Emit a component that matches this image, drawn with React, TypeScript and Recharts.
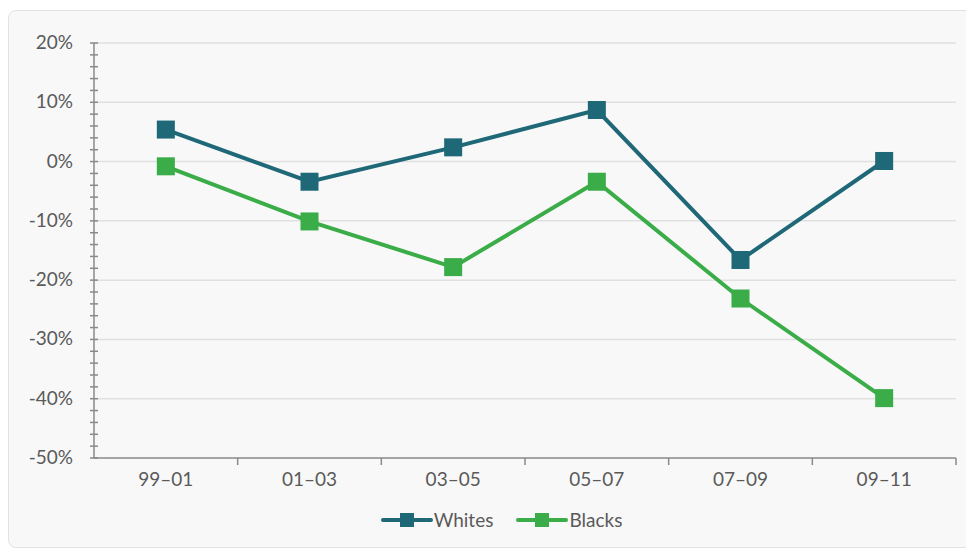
import React from 'react';
import { LineChart, Line, XAxis, YAxis, CartesianGrid, Legend } from 'recharts';

const periods = ['99–01', '01–03', '03–05', '05–07', '07–09', '09–11'];
const whites = [5.4, -3.4, 2.4, 8.7, -16.6, 0.1];
const blacks = [-0.8, -10.1, -17.8, -3.4, -23.1, -39.9];
const yTicks = [-50, -48, -46, -44, -42, -40, -38, -36, -34, -32, -30, -28, -26, -24, -22, -20, -18, -16, -14, -12, -10, -8, -6, -4, -2, 0, 2, 4, 6, 8, 10, 12, 14, 16, 18, 20];
const gridValues = [-40, -30, -20, -10, 0, 10, 20];

const data = periods.map((p, i) => ({ period: p, Whites: whites[i], Blacks: blacks[i] }));

const WHITE_C = '#1f6878';
const BLACK_C = '#3aac48';
const AXIS_C = '#8a8a8a';
const TEXT_C = '#5a5a5a';
const FONT = 'Lato, "Open Sans", sans-serif';

const CHART_W = 966;
const CHART_H = 538;
const MARGIN = { top: 32, right: 17, left: 0, bottom: 9 };
const Y_W = 85;
const HALF_BAND = (CHART_W - 2 - MARGIN.right - Y_W) / periods.length / 2;

const YTick = (props: any) => {
  const { x, y, payload } = props;
  const major = payload.value % 10 === 0;
  return (
    <g>
      <line x1={x - 4} x2={x + 4} y1={y} y2={y} stroke={AXIS_C} strokeWidth={1.5} />
      {major && (
        <text x={x - 21} y={y} dy={6} textAnchor="end" fill={TEXT_C} fontSize={19} fontFamily={FONT}>
          {payload.value}%
        </text>
      )}
    </g>
  );
};

const XTick = (props: any) => {
  const { x, y, payload } = props;
  return (
    <g>
      <line x1={x + HALF_BAND} x2={x + HALF_BAND} y1={y} y2={y + 7} stroke={AXIS_C} strokeWidth={1.5} />
      <text x={x} y={y + 22} dy={6} textAnchor="middle" fill={TEXT_C} fontSize={19} fontFamily={FONT}>
        {payload.value}
      </text>
    </g>
  );
};

const SquareDot = (color: string) => (props: any) => {
  const { cx, cy, index } = props;
  if (cx == null || cy == null) return null;
  return <rect key={index} x={cx - 9} y={cy - 9} width={18} height={18} fill={color} />;
};

const LegendContent = () => {
  const items = [
    { name: 'Whites', color: WHITE_C },
    { name: 'Blacks', color: BLACK_C },
  ];
  return (
    <div style={{ display: 'flex', justifyContent: 'center', gap: 23, paddingTop: 10, paddingLeft: 38, fontFamily: FONT }}>
      {items.map((it) => (
        <div key={it.name} style={{ display: 'flex', alignItems: 'center' }}>
          <svg width={52} height={16} style={{ marginRight: 1 }}>
            <line x1={2} x2={50} y1={8} y2={8} stroke={it.color} strokeWidth={4} strokeLinecap="round" />
            <rect x={19} y={1} width={14} height={14} fill={it.color} />
          </svg>
          <span style={{ color: TEXT_C, fontSize: 19 }}>{it.name}</span>
        </div>
      ))}
    </div>
  );
};

export default function App() {
  return (
    <div
      style={{
        marginTop: 2,
        width: CHART_W,
        height: CHART_H,
        background: '#f8f8f8',
        border: '1px solid #e2e2e2',
        borderRadius: 8,
        boxSizing: 'border-box',
      }}
    >
      <LineChart width={CHART_W - 2} height={CHART_H - 2} data={data} margin={MARGIN}>
        <CartesianGrid horizontalValues={gridValues} vertical={false} stroke="#e0e0e0" strokeWidth={1.5} />
        <XAxis
          dataKey="period"
          height={40}
          padding={{ left: HALF_BAND, right: HALF_BAND }}
          axisLine={{ stroke: AXIS_C, strokeWidth: 1.5 }}
          tickLine={false}
          tickSize={0}
          tickMargin={0}
          tick={<XTick />}
          interval={0}
        />
        <YAxis
          width={Y_W}
          domain={[-50, 20]}
          ticks={yTicks}
          interval={0}
          axisLine={{ stroke: AXIS_C, strokeWidth: 1.5 }}
          tickLine={false}
          tickSize={0}
          tickMargin={0}
          tick={<YTick />}
        />
        <Legend height={40} verticalAlign="bottom" content={<LegendContent />} />
        <Line
          dataKey="Whites"
          stroke={WHITE_C}
          strokeWidth={4}
          dot={SquareDot(WHITE_C)}
          activeDot={false}
          isAnimationActive={false}
        />
        <Line
          dataKey="Blacks"
          stroke={BLACK_C}
          strokeWidth={4}
          dot={SquareDot(BLACK_C)}
          activeDot={false}
          isAnimationActive={false}
        />
      </LineChart>
    </div>
  );
}
